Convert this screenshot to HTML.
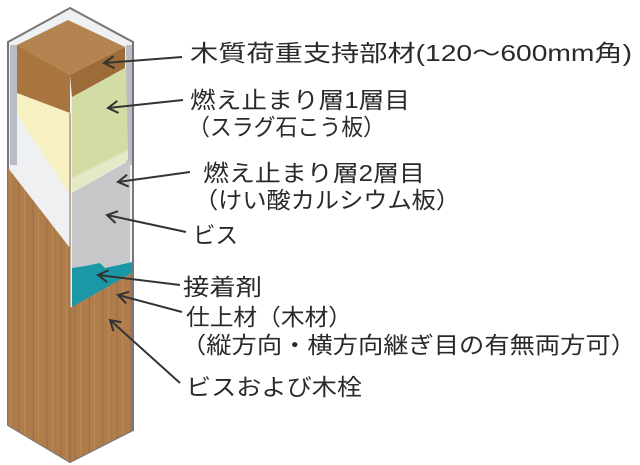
<!DOCTYPE html>
<html><head><meta charset="utf-8"><style>
html,body{margin:0;padding:0;background:#fff;width:640px;height:465px;overflow:hidden}
svg{display:block}
text{font-family:"Liberation Sans","Noto Sans CJK JP",sans-serif;fill:#2a2a2a;font-size:23px}
</style></head><body>
<svg width="640" height="465" viewBox="0 0 640 465">
<defs>
<pattern id="wd" width="14" height="40" patternUnits="userSpaceOnUse">
<rect width="14" height="40" fill="#b07c4a"/>
<rect x="4" width="2" height="40" fill="#a5744a"/>
<rect x="10" width="1" height="40" fill="#bb8a58"/>
</pattern>
<marker id="ah" markerWidth="14" markerHeight="14" refX="12" refY="7" orient="auto" markerUnits="userSpaceOnUse">
<path d="M2,1 L12,7 L2,13" fill="none" stroke="#333" stroke-width="2"/>
</marker>
</defs>
<polygon points="8,42 70,8 133,42 133,430 70,462 8,425" fill="#eef0f2" stroke="#777" stroke-width="2"/>
<rect x="10" y="45" width="7" height="120" fill="#b8bcc4"/>
<rect x="126" y="45" width="6" height="120" fill="#b8bcc4"/>
<polygon points="17,93 70,113 70,195 17,115" fill="#f6f0c2"/>
<polygon points="8,168 70,248 70,462 8,425" fill="url(#wd)"/>
<polygon points="72,97 126,68 128,150 72,178" fill="#d3dca4"/>
<polygon points="72,178 128,150 128,160 72,193" fill="#e4e8c4"/>
<polygon points="72,193 130,160 130,262 105,268 100,263 85,266 72,268" fill="#c6c7c9"/>
<polygon points="72,268 85,266 100,263 105,268 132,262 132,273 72,308" fill="#1b97a6"/>
<polygon points="70,308 132,273 132,430 70,462" fill="url(#wd)"/>
<line x1="70" y1="113" x2="70" y2="462" stroke="#8a6a4a" stroke-width="1"/>
<polygon points="17,45 70,75 70,113 17,93" fill="#a8753f"/>
<polygon points="17,45 68,20 125,47 70,75" fill="#b38350"/>
<polygon points="70,75 125,47 125,68 72,97" fill="#9b6b38"/>
<g stroke="#333" stroke-width="2" fill="none">
<line x1="182" y1="57" x2="104" y2="63" marker-end="url(#ah)"/>
<line x1="183" y1="100" x2="108" y2="108" marker-end="url(#ah)"/>
<line x1="190" y1="172" x2="118" y2="182" marker-end="url(#ah)"/>
<line x1="186" y1="232" x2="107" y2="215" marker-end="url(#ah)"/>
<line x1="180" y1="285" x2="98" y2="275" marker-end="url(#ah)"/>
<line x1="182" y1="312" x2="118" y2="295" marker-end="url(#ah)"/>
<line x1="180" y1="383" x2="110" y2="320" marker-end="url(#ah)"/>
</g>
<text x="190" y="61" textLength="442" lengthAdjust="spacingAndGlyphs">木質荷重支持部材(120～600mm角)</text>
<text x="190" y="108" textLength="220" lengthAdjust="spacingAndGlyphs">燃え止まり層1層目</text>
<text x="188" y="135" textLength="197" lengthAdjust="spacingAndGlyphs">（スラグ石こう板）</text>
<text x="203" y="181" textLength="222" lengthAdjust="spacingAndGlyphs">燃え止まり層2層目</text>
<text x="194" y="208" textLength="266" lengthAdjust="spacingAndGlyphs">（けい酸カルシウム板）</text>
<text x="193" y="243" textLength="45" lengthAdjust="spacingAndGlyphs">ビス</text>
<text x="183" y="295" textLength="79" lengthAdjust="spacingAndGlyphs">接着剤</text>
<text x="186" y="325" textLength="166" lengthAdjust="spacingAndGlyphs">仕上材（木材）</text>
<text x="181" y="353" textLength="455" lengthAdjust="spacingAndGlyphs">（縦方向・横方向継ぎ目の有無両方可）</text>
<text x="186" y="395" textLength="176" lengthAdjust="spacingAndGlyphs">ビスおよび木栓</text>
</svg>
</body></html>
